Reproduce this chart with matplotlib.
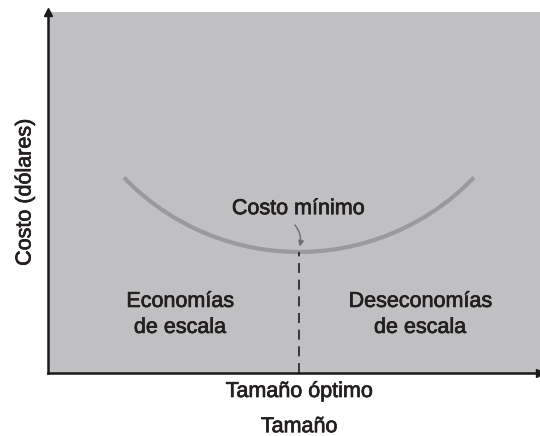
import numpy as np
import matplotlib
matplotlib.use('Agg')
import matplotlib.pyplot as plt
import matplotlib.patheffects as pe

# average cost curve (0-100 units on both axes)
size = [15.43, 17.97, 20.51, 23.05, 25.59, 28.13, 30.67, 33.22, 35.76, 38.30,
        40.84, 43.38, 45.92, 48.46, 51.0, 53.54, 56.08, 58.62, 61.16, 63.70,
        66.24, 68.78, 71.33, 73.87, 76.41, 78.95, 81.49, 84.03, 86.57]
cost = [54.13, 50.78, 47.87, 45.33, 43.10, 41.17, 39.47, 38.03, 36.81, 35.78,
        34.96, 34.32, 33.88, 33.61, 33.52, 33.61, 33.88, 34.32, 34.96, 35.78,
        36.81, 38.03, 39.47, 41.17, 43.10, 45.33, 47.87, 50.78, 54.13]
optimo = 51.0
costo_min = 33.52

plt.rcParams['font.family'] = ['Liberation Sans', 'DejaVu Sans']
txt = '#231f20'
fs = 15.5
# a thin outline to get the medium weight of the original lettering
heavy = [pe.withStroke(linewidth=0.5, foreground=txt)]
kw = dict(fontsize=fs, color=txt, path_effects=heavy)

fig = plt.figure(figsize=(5.4, 4.36), dpi=100)
ax = fig.add_axes([48/540, 63/436, 492/540, 361/436])
ax.set_facecolor('#c0c0c2')
ax.set_xlim(0, 100)
ax.set_ylim(0, 100)

ax.plot(size, cost, color='#9a9a9c', lw=3, solid_capstyle='butt')
ax.plot([optimo, optimo], [0, costo_min], color='#231f20', lw=1.2, ls=(0, (6, 4)))

ax.annotate('', xy=(optimo, costo_min + 0.8), xytext=(49.8, 41.6),
            arrowprops=dict(arrowstyle='-|>', color='#6d6d6f', lw=1,
                            mutation_scale=8, connectionstyle='arc3,rad=-0.3'))
ax.text(50.8, 44.0, 'Costo mínimo', ha='center', va='baseline', **kw)
ax.text(26.8, 18.3, 'Economías', ha='center', va='baseline', **kw)
ax.text(26.8, 11.1, 'de escala', ha='center', va='baseline', **kw)
ax.text(75.6, 18.3, 'Deseconomías', ha='center', va='baseline', **kw)
ax.text(75.6, 11.1, 'de escala', ha='center', va='baseline', **kw)

for s in ['top', 'right']:
    ax.spines[s].set_visible(False)
for s in ['left', 'bottom']:
    ax.spines[s].set_linewidth(1.8)
    ax.spines[s].set_color('#1a1a1a')
ax.set_xticks([])
ax.set_yticks([])
ax.plot([0], [1], marker='^', color='#1a1a1a', ms=6, transform=ax.transAxes, clip_on=False)
ax.plot([1], [0], marker='>', color='#1a1a1a', ms=6, transform=ax.transAxes, clip_on=False)

ax.text(optimo, -6.65, 'Tamaño óptimo', ha='center', va='baseline', **kw)
ax.text(optimo, -16.4, 'Tamaño', ha='center', va='baseline', **kw)
ax.set_ylabel('Costo (dólares)', labelpad=9, **kw)

fig.savefig('out.png', dpi=100)
